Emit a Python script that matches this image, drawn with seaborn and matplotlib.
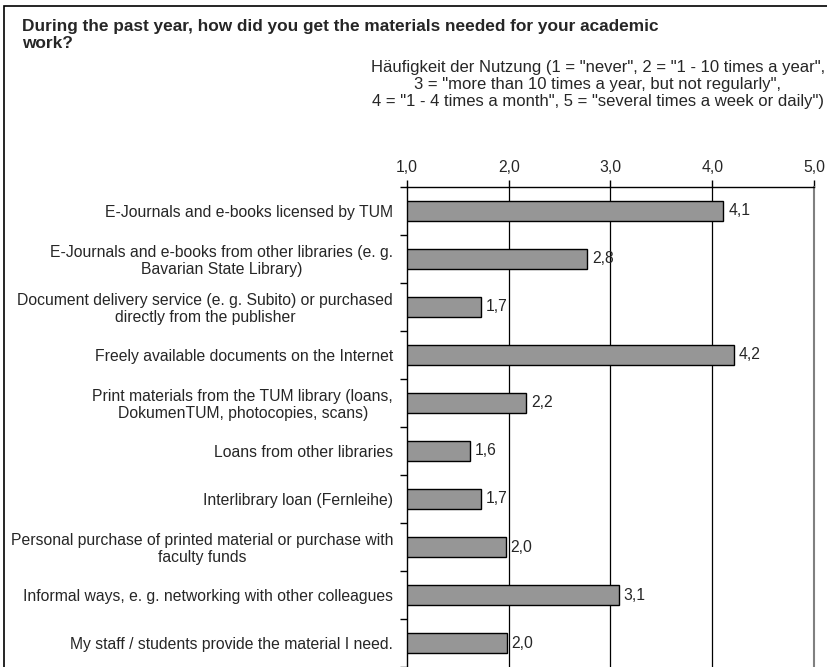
import matplotlib
matplotlib.use("Agg")
import matplotlib.pyplot as plt
import seaborn as sns
import pandas as pd
from matplotlib.ticker import FuncFormatter, FixedLocator
from matplotlib.patches import Rectangle

categories = [
    "E-Journals and e-books licensed by TUM",
    "E-Journals and e-books from other libraries (e. g.\nBavarian State Library)",
    "Document delivery service (e. g. Subito) or purchased\ndirectly from the publisher",
    "Freely available documents on the Internet",
    "Print materials from the TUM library (loans,\nDokumenTUM, photocopies, scans)",
    "Loans from other libraries",
    "Interlibrary loan (Fernleihe)",
    "Personal purchase of printed material or purchase with\nfaculty funds",
    "Informal ways, e. g. networking with other colleagues",
    "My staff / students provide the material I need.",
]
values = [4.11, 2.77, 1.73, 4.21, 2.17, 1.62, 1.73, 1.97, 3.08, 1.98]
x_ticks = [1.0, 2.0, 3.0, 4.0, 5.0]

title = "During the past year, how did you get the materials needed for your academic\nwork?"
subtitle = ('Häufigkeit der Nutzung (1 = "never", 2 = "1 - 10 times a year",\n'
            '3 = "more than 10 times a year, but not regularly",\n'
            '4 = "1 - 4 times a month", 5 = "several times a week or daily")')

sns.set_style("white")
plt.rcParams["font.family"] = ["Liberation Sans", "DejaVu Sans"]

df = pd.DataFrame({"cat": categories, "val": values})

fig = plt.figure(figsize=(8.28, 6.67), dpi=100)
ax = fig.add_axes([407 / 828, 0.0, 407 / 828, 480 / 667])

sns.barplot(data=df, x="val", y="cat", orient="h", color="#969696",
            edgecolor="black", linewidth=1.0, width=0.4, saturation=1, ax=ax)

ax.set_xlim(1.0, 5.0)
ax.set_ylim(len(categories) - 0.5, -0.5)
ax.set_xlabel("")
ax.set_ylabel("")

ax.xaxis.tick_top()
ax.xaxis.set_major_locator(FixedLocator(x_ticks))
ax.xaxis.set_major_formatter(FuncFormatter(lambda v, p: f"{v:.1f}".replace(".", ",")))
ax.tick_params(axis="x", which="major", direction="out", length=5, width=1,
               color="black", labelsize=11.3, pad=3.5, top=True, bottom=False)

ax.yaxis.set_minor_locator(FixedLocator([i - 0.5 for i in range(len(categories) + 1)]))
ax.tick_params(axis="y", which="major", length=0, labelsize=11.3, pad=10)
ax.tick_params(axis="y", which="minor", direction="out", length=5, width=1,
               color="black", left=True)
for lab in ax.get_yticklabels():
    lab.set_multialignment("center")
    lab.set_linespacing(1.1)

for xv in x_ticks[1:4]:
    ax.axvline(xv, color="black", linewidth=0.9, zorder=0)

for side in ["top", "left"]:
    ax.spines[side].set_visible(True)
    ax.spines[side].set_color("black")
    ax.spines[side].set_linewidth(1.0)
ax.spines["right"].set_visible(True)
ax.spines["right"].set_color("#808080")
ax.spines["right"].set_linewidth(1.5)
ax.spines["bottom"].set_visible(False)

ax.bar_label(ax.containers[0],
             labels=[f"{v:.1f}".replace(".", ",") for v in values],
             padding=3.5, fontsize=11.3)

fig.text(22 / 828, 1 - 19 / 667, title, ha="left", va="top", fontsize=12.4,
         fontweight="bold", linespacing=1.18)
fig.text(598 / 828, 1 - 60 / 667, subtitle, ha="center", va="top",
         multialignment="center", fontsize=12, linespacing=1.15)

fig.patches.append(Rectangle((4 / 828, -0.05), 1.2, 1 - 6 / 667 + 0.05,
                             transform=fig.transFigure, fill=False,
                             edgecolor="black", linewidth=1.2))

fig.savefig("out.png", dpi=100)
